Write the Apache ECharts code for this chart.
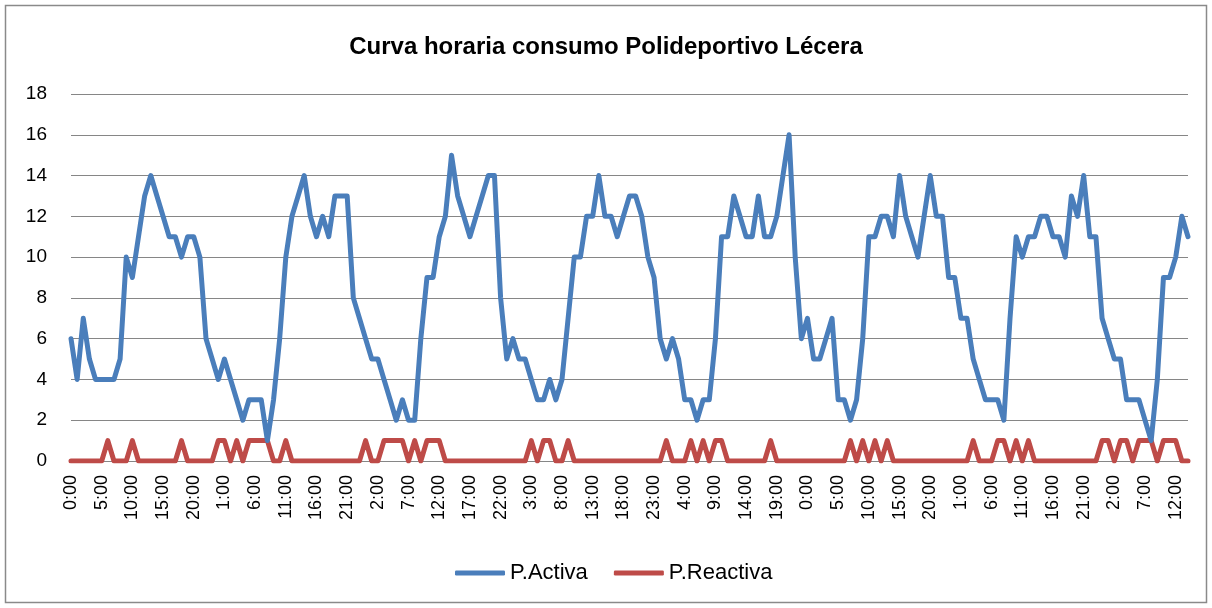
<!DOCTYPE html>
<html>
<head>
<meta charset="utf-8">
<script src="https://cdn.jsdelivr.net/npm/echarts@6/dist/echarts.min.js"></script>
<style>
html,body{margin:0;padding:0;background:#fff;}
#chart{width:1212px;height:608px;}
</style>
</head>
<body>
<div id="chart"></div>
<script>
const titleText = "Curva horaria consumo Polideportivo Lécera";
const seriesNames = ["P.Activa", "P.Reactiva"];
const hourLabels = ["0:00","1:00","2:00","3:00","4:00","5:00","6:00","7:00","8:00","9:00","10:00","11:00",
  "12:00","13:00","14:00","15:00","16:00","17:00","18:00","19:00","20:00","21:00","22:00","23:00"];
const pActiva = [
  6,4,7,5,4,4,4,4,5,10,
  9,11,13,14,13,12,11,11,10,11,
  11,10,6,5,4,5,4,3,2,3,
  3,3,1,3,6,10,12,13,14,12,
  11,12,11,13,13,13,8,7,6,5,
  5,4,3,2,3,2,2,6,9,9,
  11,12,15,13,12,11,12,13,14,14,
  8,5,6,5,5,4,3,3,4,3,
  4,7,10,10,12,12,14,12,12,11,
  12,13,13,12,10,9,6,5,6,5,
  3,3,2,3,3,6,11,11,13,12,
  11,11,13,11,11,12,14,16,10,6,
  7,5,5,6,7,3,3,2,3,6,
  11,11,12,12,11,14,12,11,10,12,
  14,12,12,9,9,7,7,5,4,3,
  3,3,2,7,11,10,11,11,12,12,
  11,11,10,13,12,14,11,11,7,6,
  5,5,3,3,3,2,1,4,9,9,
  10,12,11
];
const pReactiva = [
  0,0,0,0,0,0,1,0,0,0,
  1,0,0,0,0,0,0,0,1,0,
  0,0,0,0,1,1,0,1,0,1,
  1,1,1,0,0,1,0,0,0,0,
  0,0,0,0,0,0,0,0,1,0,
  0,1,1,1,1,0,1,0,1,1,
  1,0,0,0,0,0,0,0,0,0,
  0,0,0,0,0,1,0,1,1,0,
  0,1,0,0,0,0,0,0,0,0,
  0,0,0,0,0,0,0,1,0,0,
  0,1,0,1,0,1,1,0,0,0,
  0,0,0,0,1,0,0,0,0,0,
  0,0,0,0,0,0,0,1,0,1,
  0,1,0,1,0,0,0,0,0,0,
  0,0,0,0,0,0,0,1,0,0,
  0,1,1,0,1,0,1,0,0,0,
  0,0,0,0,0,0,0,0,1,1,
  0,1,1,0,1,1,1,0,1,1,
  1,0,0
];
const categories = pActiva.map((_, i) => hourLabels[i % 24]);

const FONT = "'Liberation Sans', Arial, sans-serif";
const chart = echarts.init(document.getElementById('chart'), null, {renderer: 'canvas'});
chart.setOption({
  backgroundColor: '#fff',
  animation: false,
  title: {
    text: titleText,
    left: 'center',
    top: 30,
    textStyle: {fontFamily: FONT, fontSize: 24, fontWeight: 'bold', color: '#000'}
  },
  graphic: [{
    type: 'rect',
    shape: {x: 5.5, y: 5.5, width: 1201, height: 597},
    style: {fill: 'none', stroke: '#8a8a8a', lineWidth: 1.5},
    silent: true
  }],
  legend: {
    bottom: 19,
    left: 450,
    itemWidth: 50,
    itemHeight: 5,
    itemGap: 26,
    icon: 'roundRect',
    textStyle: {fontFamily: FONT, fontSize: 22, color: '#000'},
    data: seriesNames
  },
  grid: {left: 71, right: 24, top: 94, bottom: 147, containLabel: false},
  xAxis: {
    type: 'category',
    data: categories,
    boundaryGap: false,
    axisLine: {show: true, lineStyle: {color: '#868686'}},
    axisTick: {show: false},
    axisLabel: {
      interval: 4,
      rotate: 90,
      margin: 14,
      fontFamily: FONT,
      fontSize: 18,
      color: '#000'
    },
    splitLine: {show: false}
  },
  yAxis: {
    type: 'value',
    min: 0,
    max: 18,
    interval: 2,
    axisLine: {show: false},
    axisTick: {show: false},
    axisLabel: {margin: 24, fontFamily: FONT, fontSize: 19, color: '#000'},
    splitLine: {show: true, lineStyle: {color: '#868686', width: 1.2}}
  },
  series: [
    {
      name: seriesNames[0],
      type: 'line',
      data: pActiva,
      symbol: 'none',
      z: 3,
      itemStyle: {color: '#4A7EBB'},
      lineStyle: {color: '#4A7EBB', width: 5, join: 'round', cap: 'round'}
    },
    {
      name: seriesNames[1],
      type: 'line',
      data: pReactiva,
      symbol: 'none',
      z: 2,
      itemStyle: {color: '#BE4B48'},
      lineStyle: {color: '#BE4B48', width: 5, join: 'round', cap: 'round'}
    }
  ]
});
</script>
</body>
</html>
